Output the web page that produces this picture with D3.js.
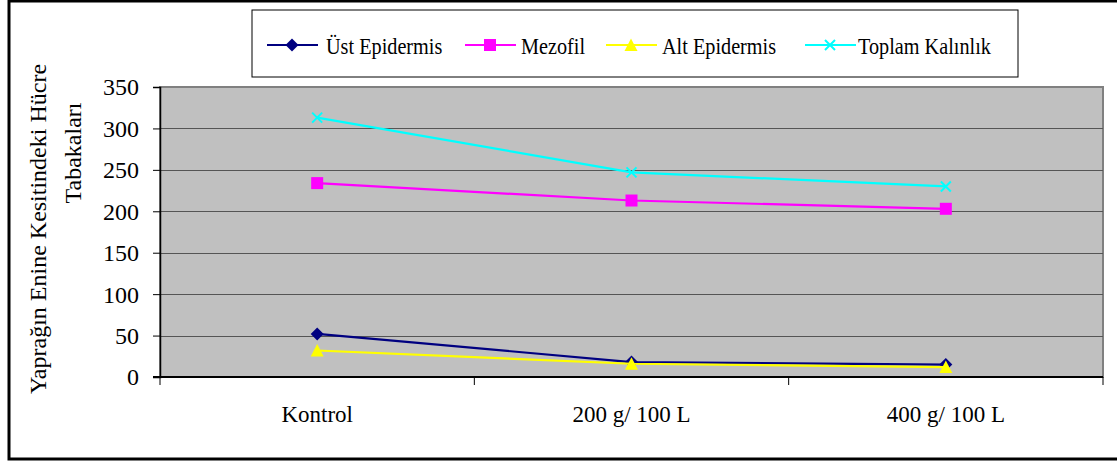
<!DOCTYPE html>
<html>
<head>
<meta charset="utf-8">
<script src="https://cdn.jsdelivr.net/npm/d3@7"></script>
<style>
body { margin: 0; background: #fff; }
text { font-family: "Liberation Serif", "Times New Roman", serif; }
</style>
</head>
<body>
<svg width="1117" height="461"></svg>
<script>
let categories = ["Kontrol", "200 g/ 100 L", "400 g/ 100 L"];
let ustEpidermis = [52, 18, 15];
let mezofil = [234, 213, 203];
let altEpidermis = [32, 16, 12];
let toplamKalinlik = [313, 247, 230];
let yTicks = [0, 50, 100, 150, 200, 250, 300, 350];

let series = [
    {name: "Üst Epidermis", values: ustEpidermis, color: "#000080", marker: "diamond"},
    {name: "Mezofil", values: mezofil, color: "#FF00FF", marker: "square"},
    {name: "Alt Epidermis", values: altEpidermis, color: "#FFFF00", marker: "triangle"},
    {name: "Toplam Kalınlık", values: toplamKalinlik, color: "#00FFFF", marker: "x"}
];

let svg = d3.select('svg');

// outer frame
svg.append('rect').attr('x', 9).attr('y', 1).attr('width', 1120).attr('height', 458)
    .attr('fill', 'none').attr('stroke', '#000').attr('stroke-width', 3);

let plotLeft = 160, plotRight = 1103, plotTop = 87, plotBottom = 377;

let x = d3.scaleBand().domain(categories).range([plotLeft, plotRight]);
let y = d3.scaleLinear().domain([0, 350]).range([plotBottom, plotTop]);

// plot area
svg.append('rect').attr('x', plotLeft).attr('y', plotTop).attr('width', plotRight - plotLeft).attr('height', plotBottom - plotTop)
    .attr('fill', '#C0C0C0').attr('stroke', '#808080').attr('stroke-width', 2);

// gridlines
svg.append('g').selectAll('line').data(yTicks.filter(d => d > 0 && d < 350)).enter().append('line')
    .attr('x1', plotLeft).attr('x2', plotRight)
    .attr('y1', d => Math.round(y(d)) + 0.5).attr('y2', d => Math.round(y(d)) + 0.5)
    .attr('stroke', '#555').attr('stroke-width', 1.2);

// y axis
let yAxis = svg.append('g').attr('transform', `translate(${plotLeft}, 0)`)
    .call(d3.axisLeft(y).tickValues(yTicks).tickSize(7).tickPadding(14));
yAxis.select('.domain').attr('stroke', '#000').attr('stroke-width', 1.5);
yAxis.selectAll('line').attr('stroke', '#000');
yAxis.selectAll('text').attr('font-size', 24).attr('fill', '#000').attr('dy', '0.33em')
    .style('font-family', '"Liberation Serif", serif');

// x axis
let xAxis = svg.append('g').attr('transform', `translate(0, ${plotBottom})`)
    .call(d3.axisBottom(x).tickSize(0).tickPadding(0));
xAxis.select('.domain').remove();
xAxis.append('line').attr('x1', plotLeft - 7).attr('x2', plotRight).attr('y1', 0).attr('y2', 0)
    .attr('stroke', '#000').attr('stroke-width', 2);
let bounds = categories.map(c => x(c)).concat([plotRight]);
xAxis.selectAll('.bound').data(bounds).enter().append('line').attr('class', 'bound')
    .attr('x1', d => d).attr('x2', d => d).attr('y1', 0).attr('y2', 8).attr('stroke', '#000');
xAxis.selectAll('.tick text').attr('font-size', 23).attr('fill', '#000')
    .attr('y', 45).attr('dy', 0)
    .style('font-family', '"Liberation Serif", serif');

// y title
svg.append('text').attr('transform', 'translate(46, 229) rotate(-90)')
    .attr('text-anchor', 'middle').attr('font-size', 24).attr('fill', '#000')
    .text('Yaprağın Enine Kesitindeki  Hücre');
svg.append('text').attr('transform', 'translate(81, 153) rotate(-90)')
    .attr('text-anchor', 'middle').attr('font-size', 24).attr('fill', '#000')
    .text('Tabakaları');

function drawMarker(g, type, color, cx, cy) {
    if (type == "diamond") {
        g.append('path').attr('d', `M${cx},${cy - 6.5}L${cx + 6.5},${cy}L${cx},${cy + 6.5}L${cx - 6.5},${cy}Z`).attr('fill', color);
    } else if (type == "square") {
        g.append('rect').attr('x', cx - 6).attr('y', cy - 6).attr('width', 12).attr('height', 12).attr('fill', color);
    } else if (type == "triangle") {
        g.append('path').attr('d', `M${cx},${cy - 6.5}L${cx + 6.5},${cy + 6}L${cx - 6.5},${cy + 6}Z`).attr('fill', color);
    } else {
        g.append('path').attr('d', `M${cx - 5},${cy - 5}L${cx + 5},${cy + 5}M${cx - 5},${cy + 5}L${cx + 5},${cy - 5}`)
            .attr('stroke', color).attr('stroke-width', 2);
    }
}

let line = d3.line().x((d, i) => x(categories[i]) + x.bandwidth() / 2).y(d => y(d));

series.forEach(function(s) {
    let g = svg.append('g');
    g.append('path').attr('d', line(s.values)).attr('fill', 'none').attr('stroke', s.color).attr('stroke-width', 2.2);
    s.values.forEach(function(v, i) {
        drawMarker(g, s.marker, s.color, x(categories[i]) + x.bandwidth() / 2, y(v));
    });
});

// legend
svg.append('rect').attr('x', 252).attr('y', 10).attr('width', 766).attr('height', 67)
    .attr('fill', '#fff').attr('stroke', '#000').attr('stroke-width', 1);
let legendX = [267, 465, 606, 805];
let legendTextX = [326, 521, 662, 858];
series.forEach(function(s, i) {
    let g = svg.append('g').attr('transform', `translate(${legendX[i]}, 45)`);
    g.append('line').attr('x1', 0).attr('x2', 51).attr('y1', 0).attr('y2', 0).attr('stroke', s.color).attr('stroke-width', 2.2);
    drawMarker(g, s.marker, s.color, 25, 0);
    svg.append('text').attr('transform', `translate(${legendTextX[i]}, 54) scale(0.88, 1)`)
        .attr('font-size', 23).attr('fill', '#000').text(s.name);
});
</script>
</body>
</html>
